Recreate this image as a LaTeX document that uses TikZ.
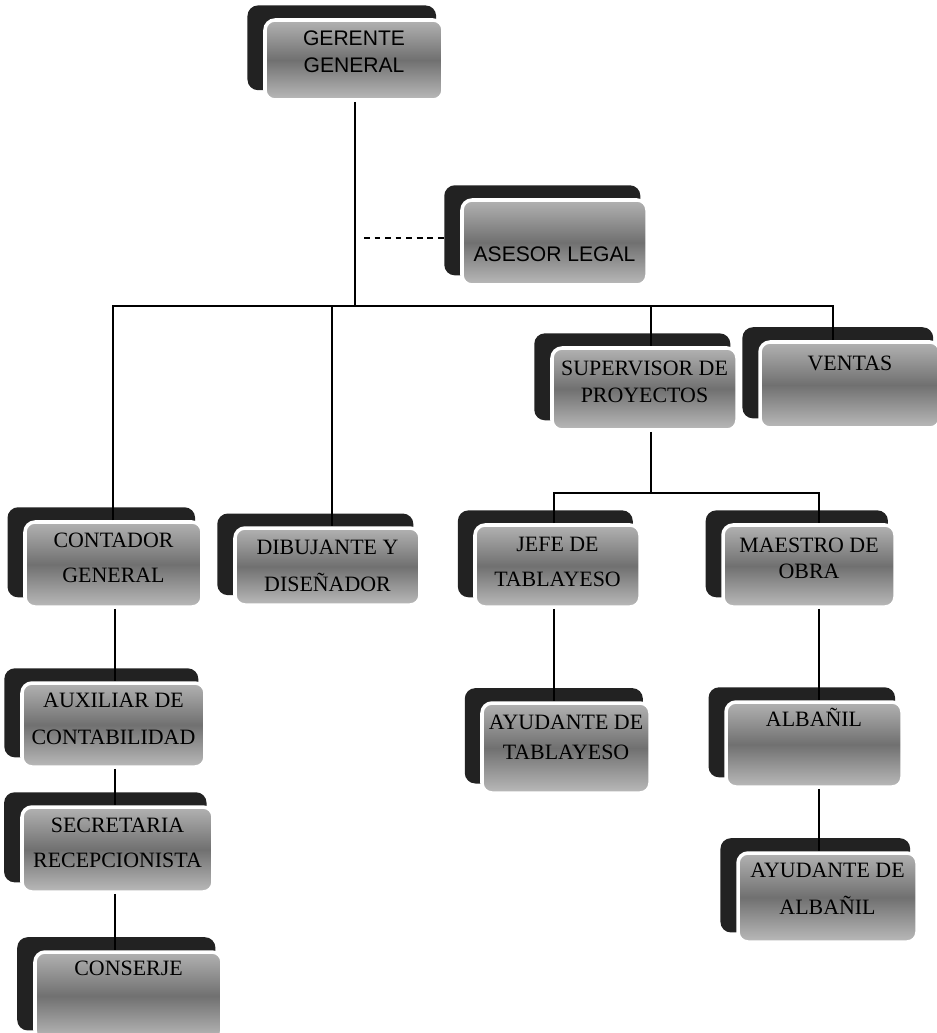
\documentclass[tikz,border=0pt]{standalone}
\usepackage{fontspec}
\setmainfont{Liberation Serif}
\setsansfont{Liberation Sans}
\usetikzlibrary{calc,shadows}
\newlength\px
\setlength\px{0.03cm}
\definecolor{cback}{HTML}{222222}
\tikzset{
	every picture/.style={font=\fontsize{18.7}{22.3}\selectfont,},
	lw/.style={line width=1pt,},
	%%%
	puesto/.style={rounded corners=0.3cm, draw=white, line width=3pt, inner sep=0pt,
		top color=black!30, bottom color=black!27, middle color=black!56,
		general shadow={shadow xshift=-11.5\px, shadow yshift=11.5\px,
			shadow scale=1.06, fill=cback},
	},
	sans/.style={font=\sffamily\fontsize{18}{23}\selectfont,},
	%%%
	linea/.style={black, lw},
	asesoria/.style={black, lw, dash pattern=on 5pt off 4pt},
}
\newcommand\cargo[4]{\parbox[c][#2\px][t]{#1\px}{\centering\vspace*{#3\px}#4}}

\begin{document}
\begin{tikzpicture}[x=0.03cm, y=-0.03cm]

	\useasboundingbox (0,0) rectangle (937,1033);
	\clip (0,0) rectangle (937,1033);

	%%% Direccion

	\node[puesto, sans] (gerente) at (354,60) {\cargo{178}{80}{11}{GERENTE\\GENERAL}};
	\node[puesto, sans] (asesor) at (554.5,242.5) {\cargo{185}{85}{46.5}{ASESOR LEGAL}};

	%%% Segundo nivel

	\node[puesto] (supervisor) at (644.5,389) {\cargo{185}{82}{12.5}{SUPERVISOR DE\\[1.7\px]PROYECTOS}};
	\node[puesto] (ventas) at (850,385) {\cargo{180}{86}{13.5}{VENTAS}};
	\node[puesto] (contador) at (113.5,564.5) {\cargo{177}{85}{10.5}{CONTADOR\\[9.7\px]GENERAL}};
	\node[puesto] (dibujante) at (327.5,566.5) {\cargo{185}{77}{12.5}{DIBUJANTE Y\\[10.7\px]DISEÑADOR}};
	\node[puesto] (jefe) at (557.5,566) {\cargo{165}{82}{12.5}{JEFE DE\\[8.7\px]TABLAYESO}};
	\node[puesto] (maestro) at (809,566) {\cargo{172}{82}{12.5}{MAESTRO DE\\OBRA}};

	%%% Administracion

	\node[puesto] (auxiliar) at (113.5,725) {\cargo{183}{84}{10.5}{AUXILIAR DE\\[10.7\px]CONTABILIDAD}};
	\node[puesto] (secretaria) at (117.5,849.5) {\cargo{191}{85}{10.5}{SECRETARIA\\[9.7\px]RECEPCIONISTA}};
	\node[puesto] (conserje) at (128.5,996) {\cargo{187}{88}{8.5}{CONSERJE}};

	%%% Obra

	\node[puesto] (ayudtabla) at (566,748) {\cargo{168}{90}{12.5}{AYUDANTE DE\\[3.7\px]TABLAYESO}};
	\node[puesto] (albanil) at (814,744.5) {\cargo{176}{85}{6.5}{ALBAÑIL}};
	\node[puesto] (ayudalba) at (827.5,897.5) {\cargo{179}{89}{10.5}{AYUDANTE DE\\[10.7\px]ALBAÑIL}};

	%%% Lineas

	\coordinate (barra) at (355,306);
	\coordinate (subbarra) at (651,493);
	\coordinate (leg) at (364,238);
	\coordinate (xc) at (113,0);
	\coordinate (xd) at (332,0);
	\coordinate (xv) at (833,0);
	\coordinate (xj) at (554,0);
	\coordinate (xm) at (819,0);
	\coordinate (xa) at (115,0);

	\draw[linea] (gerente.south -| barra) -- (barra);
	\draw[asesoria] (leg) -- ($(leg -| asesor.west)+(-15,0)$);
	\draw[linea] (contador.north -| xc) |- (barra) -| (ventas.north -| xv);
	\draw[linea] (barra -| xd) -- (dibujante.north -| xd);
	\draw[linea] (barra -| subbarra) -- (supervisor.north -| subbarra);

	\draw[linea] (supervisor.south -| subbarra) -- (subbarra);
	\draw[linea] (jefe.north -| xj) |- (subbarra) -| (maestro.north -| xm);
	\draw[linea] (jefe.south -| xj) -- (ayudtabla.north -| xj);
	\draw[linea] (maestro.south -| xm) -- (albanil.north -| xm);
	\draw[linea] (albanil.south -| xm) -- (ayudalba.north -| xm);

	\draw[linea] (contador.south -| xa) -- (auxiliar.north -| xa);
	\draw[linea] (auxiliar.south -| xa) -- (secretaria.north -| xa);
	\draw[linea] (secretaria.south -| xa) -- (conserje.north -| xa);

\end{tikzpicture}
\end{document}
